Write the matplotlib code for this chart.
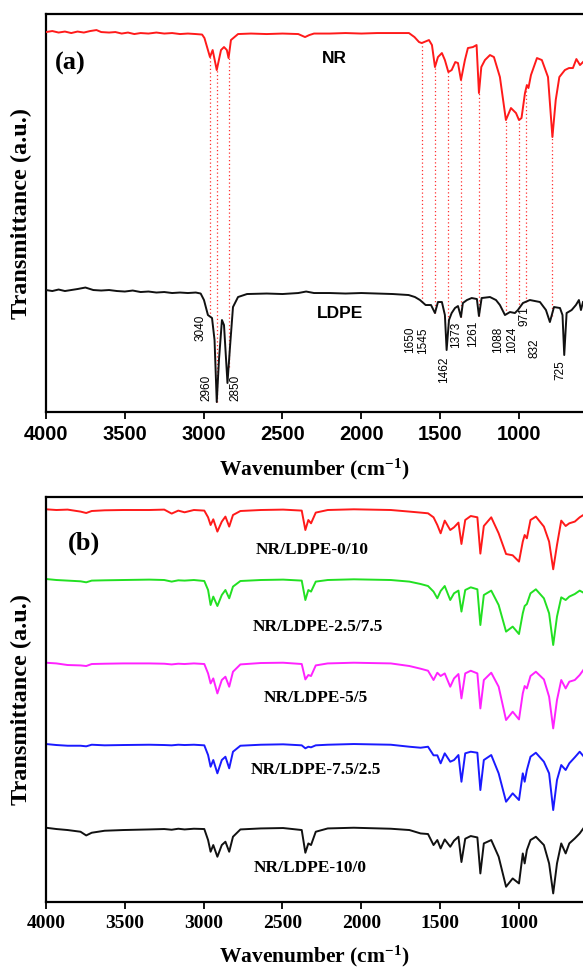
import numpy as np
import matplotlib
matplotlib.use("Agg")
from matplotlib import pyplot as plt

plt.rcParams['mathtext.fontset'] = 'custom'
plt.rcParams['mathtext.rm'] = 'Liberation Serif:bold'
plt.rcParams['mathtext.it'] = 'Liberation Serif:bold'
plt.rcParams['mathtext.bf'] = 'Liberation Serif:bold'

# ---------------- panel (a): neat NR and LDPE spectra ----------------
nr_wn = [4000, 3960, 3920, 3880, 3840, 3800, 3760, 3720, 3680, 3650, 3600, 3560, 3520, 3480,
         3440, 3400, 3350, 3300, 3250, 3200, 3150, 3100, 3050, 3010, 2995, 2960, 2943, 2917,
         2890, 2871, 2853, 2842, 2827, 2782, 2700, 2600, 2500, 2400, 2357, 2330, 2300, 2200,
         2100, 2000, 1900, 1800, 1698, 1663, 1634, 1617, 1571, 1552, 1533, 1514, 1489, 1470,
         1448, 1427, 1404, 1387, 1368, 1343, 1324, 1292, 1269, 1254, 1239, 1216, 1184, 1159,
         1121, 1083, 1051, 1019, 1000, 984, 962, 950, 940, 924, 886, 855, 816, 788, 767, 744,
         709, 683, 658, 636, 613, 594]
nr_t = [100, 101, 99.5, 100.5, 99, 100.5, 99.5, 101, 102, 100, 99.5, 100, 98.5, 99.5,
        98, 99, 98.5, 99.5, 98.5, 99, 98, 98.5, 98, 97.5, 94, 75, 82, 62,
        82, 85, 82, 74, 92, 98, 98.5, 98, 98.5, 98, 95, 97, 98.5, 98.5,
        99, 98.5, 99, 99, 99, 95, 90, 89, 92, 87, 65, 75, 79, 72,
        60, 62, 70, 69, 52, 72, 84, 85, 87, 39, 65, 72, 77, 75,
        55, 12, 24, 19, 12, 14, 39, 47, 44, 57, 74, 72, 55, -5, 32, 55,
        62, 64, 64, 73, 67, 70]

ldpe_wn = [4000, 3960, 3920, 3880, 3840, 3800, 3750, 3700, 3650, 3600, 3550, 3500, 3450, 3400,
           3350, 3300, 3250, 3200, 3150, 3100, 3050, 3019, 2998, 2973, 2947, 2931, 2917, 2903,
           2884, 2871, 2849, 2833, 2814, 2782, 2725, 2600, 2500, 2400, 2350, 2300, 2200, 2100,
           2000, 1900, 1800, 1700, 1660, 1628, 1592, 1558, 1533, 1514, 1489, 1470, 1459, 1444,
           1427, 1406, 1387, 1368, 1356, 1330, 1300, 1267, 1254, 1237, 1184, 1146, 1121, 1089,
           1057, 1026, 1007, 975, 931, 867, 829, 804, 778, 740, 724, 713, 698, 666, 639, 620,
           607, 594]
ldpe_t = [100, 99, 100.5, 99, 100, 101, 102.5, 100, 99.5, 100, 99, 98.5, 99.5, 98,
          98.5, 97.5, 98, 97, 97.5, 97, 97.5, 96.5, 90, 75, 72, 50, -12, 30,
          70, 65, 7, 43, 83, 93, 96, 96.5, 96, 97, 98.5, 97, 97, 96.5,
          97, 96.5, 96, 95, 93, 90, 85, 85, 77, 88, 88, 75, 40, 70,
          77, 82, 84, 73, 87, 90, 92, 91, 74, 92, 93, 90, 85, 75,
          78, 77, 80, 87, 90, 88, 80, 68, 83, 82, 75, 35, 77, 80, 85, 90,
          80, 88]

# dotted guide lines and band labels
guide_wn = [2960, 2917, 2842, 1617, 1533, 1448, 1368, 1254, 1083, 1000, 958, 793]
band_text = ['3040', '2960', '2850', '1650', '1545', '1462', '1373', '1261',
             '1088', '1024', '971', '832', '725']
band_x = [3017, 2985, 2800, 1692, 1609, 1476, 1397, 1292, 1130, 1041, 962, 899, 737]
band_y = [84, 24, 24, 72, 71, 42, 77, 78, 72, 72, 96, 64, 42]

# ---------------- panel (b): blends ----------------
wn_b = [4000, 3934, 3863, 3781, 3745, 3710, 3628, 3510, 3345, 3250,
        3203, 3161, 3121, 3062, 2996, 2972, 2956, 2939, 2913, 2885,
        2862, 2838, 2814, 2767, 2638, 2496, 2378, 2355, 2336, 2319,
        2289, 2213, 2048, 1813, 1695, 1624, 1577, 1542, 1518, 1497,
        1471, 1436, 1412, 1384, 1365, 1341, 1306, 1264, 1245, 1223,
        1176, 1129, 1082, 1040, 1000, 976, 964, 950, 927, 893,
        842, 809, 783, 759, 732, 704, 681, 646, 615, 592]

t_0_10 = [100, 99.3, 99.7, 97.7, 96.3, 98.3, 99, 99.3, 99.3, 99.7,
          95.7, 98.7, 97, 99.3, 98.7, 92, 84.3, 90, 77.7, 87.7,
          92.7, 82.7, 94.3, 98.3, 99.3, 99.7, 98.7, 79.3, 89.3, 86,
          96.7, 99.3, 100, 99.3, 97.7, 96.7, 96, 92, 84.3, 76,
          88.7, 79.3, 82, 86.7, 65.3, 89.3, 93.3, 92, 55.7, 83.3,
          92, 76, 55.3, 54, 47.7, 67.7, 74.3, 71, 89.3, 92.7,
          82.7, 67.7, 40, 64.3, 88.7, 83.3, 86, 87.7, 92, 94.3]
t_25_75 = [100.3, 99.3, 98.7, 98, 97, 98.7, 99, 99.3, 99.7, 99.3,
           97.7, 99, 98.7, 99.3, 98.3, 89.3, 74.3, 82.7, 73.3, 84.3,
           89.3, 81, 92.7, 98.3, 99.3, 99.7, 98.7, 79.3, 89.3, 87.7,
           97.7, 99.3, 100, 99.3, 97.7, 95.3, 93.3, 87.7, 81, 88.3,
           93.3, 79.3, 86, 88.7, 67.7, 89.3, 92, 90, 54.3, 84.3,
           88.7, 74.3, 47.7, 52.7, 45.3, 66, 73.3, 75.3, 86, 90,
           81, 66, 34.3, 62.7, 82, 79.3, 82.7, 85.3, 88.7, 86.7]
t_5_5 = [100, 99.3, 97.7, 97.3, 96.7, 98.7, 99, 99.3, 99.3, 99,
         98.3, 99, 98.7, 99.3, 98.7, 89.3, 79.3, 84.3, 69.3, 82.7,
         86, 76, 91, 98.3, 99.7, 100, 98.7, 83.3, 87.7, 86.7,
         97.3, 99.3, 100, 99.3, 96.7, 94, 92, 82.7, 90, 86.7,
         89.3, 76, 84.3, 88.7, 64.3, 89.3, 92, 89.3, 54.3, 82.7,
         90, 76, 42.7, 51, 43.3, 69.3, 76.7, 74.3, 86.7, 91,
         83.3, 66, 34.3, 62.7, 82.7, 74.3, 81, 82.7, 87.7, 92.7]
t_75_25 = [100, 99, 98.3, 98.3, 97.7, 99.3, 98.7, 99, 99.3, 99,
           98.7, 99.3, 99, 99.3, 98.7, 89, 77.3, 84, 70.7, 84,
           87.3, 75.7, 92.3, 98.3, 99.3, 99.7, 98.7, 95.7, 97.3, 96.7,
           98.7, 99.3, 100, 99.3, 97.3, 96.3, 97.3, 88.7, 88.7, 80.7,
           90.7, 82.3, 84, 89, 62.3, 90.7, 92.3, 91.3, 54, 84,
           89, 70.7, 42.3, 50.7, 44, 70.7, 62.3, 74, 87.3, 91.3,
           82.3, 70.7, 34, 64, 79, 74, 80.7, 86.7, 92.3, 88]
t_10_0 = [100, 98.7, 97.7, 96, 92.3, 95, 97, 97.7, 98.3, 98.7,
          98, 99, 98.3, 99, 98.7, 87.7, 76, 82.7, 71, 82.7,
          86, 76, 91, 98.3, 99.3, 99.7, 97.7, 75, 84.3, 82.7,
          96, 99.3, 100, 99, 97.7, 94.3, 93.7, 82.7, 87.7, 79.3,
          88.3, 81, 87, 91, 65.7, 89, 91.7, 90.3, 54.3, 84.3,
          87.7, 71, 41, 49.3, 44.3, 74.3, 64.3, 77.7, 87.7, 91,
          82.7, 64.3, 34.3, 64.3, 84.3, 74.3, 84.3, 89.3, 94.3, 99.3]

blend_names = ['NR/LDPE-0/10', 'NR/LDPE-2.5/7.5', 'NR/LDPE-5/5',
               'NR/LDPE-7.5/2.5', 'NR/LDPE-10/0']
blend_series = [t_0_10, t_25_75, t_5_5, t_75_25, t_10_0]
blend_colors = ['#ff1a1a', '#22e022', '#ff22ff', '#1a1aff', '#111111']
blend_offsets = [292.7, 222.7, 139.3, 58, -25.7]
name_x = [2313, 2275, 2288, 2288, 2326]
name_y = [352, 275, 204, 132, 34]

serif = 'Liberation Serif'
sans = 'Liberation Sans'

fig = plt.figure(figsize=(5.83, 9.69), dpi=100)
ax1 = fig.add_axes([0.0789, 0.5748, 0.9211, 0.4107])
ax2 = fig.add_axes([0.0789, 0.0691, 0.9211, 0.4180])

# panel (a)
nr_off, ldpe_off = 280, 22
ax1.plot(nr_wn, np.array(nr_t) + nr_off, color='#ff1a1a', lw=1.4, zorder=3)
ax1.plot(ldpe_wn, np.array(ldpe_t) + ldpe_off, color='#111111', lw=1.4, zorder=3)
top = np.interp(guide_wn, nr_wn[::-1], nr_t[::-1]) + nr_off
bot = np.interp(guide_wn, ldpe_wn[::-1], ldpe_t[::-1]) + ldpe_off
ax1.vlines(guide_wn, bot, top, colors='#ff3030', linestyles=(0, (1, 2)), lw=0.9, zorder=2)
for txt, x, y in zip(band_text, band_x, band_y):
    ax1.text(x, y, txt, rotation=90, ha='center', va='center',
             fontsize=8.5, family=sans)
ax1.text(2173, 354, 'NR', ha='center', va='center', fontsize=12.5,
         fontweight='bold', family=sans)
ax1.text(2135, 99, 'LDPE', ha='center', va='center', fontsize=12.5,
         fontweight='bold', family=sans)
ax1.text(3848, 349, '(a)', ha='center', va='center', fontsize=19,
         fontweight='bold', family=serif)
ax1.set_ylim(0, 398)

# panel (b)
for t, c, off in zip(blend_series, blend_colors, blend_offsets):
    ax2.plot(wn_b, np.array(t) + off, color=c, lw=1.4)
for name, x, y in zip(blend_names, name_x, name_y):
    ax2.text(x, y, name, ha='center', va='center', fontsize=12.5,
             fontweight='bold', family=serif)
ax2.text(3762, 359, '(b)', ha='center', va='center', fontsize=19,
         fontweight='bold', family=serif)
ax2.set_ylim(0, 405)

for ax, fam, ypos in [(ax1, sans, -0.112), (ax2, serif, -0.104)]:
    ax.set_xlim(4000, 594)
    ax.set_xticks([4000, 3500, 3000, 2500, 2000, 1500, 1000])
    ax.set_yticks([])
    ax.spines['right'].set_visible(False)
    for s in ['left', 'top', 'bottom']:
        ax.spines[s].set_linewidth(1.6)
    ax.tick_params(axis='x', direction='out', length=5, width=1.3, pad=4.5)
    for lab in ax.get_xticklabels():
        lab.set_family(fam)
        lab.set_fontweight('bold')
        lab.set_fontsize(14.5 if fam == sans else 14)
    ax.set_xlabel('Wavenumber (cm$^{\\mathrm{-1}}$)', family=serif,
                  fontweight='bold', fontsize=15.5)
    ax.xaxis.set_label_coords(0.5, ypos)
    ax.set_ylabel('Transmittance (a.u.)', family=serif, fontweight='bold',
                  fontsize=17.5)
    ax.yaxis.set_label_coords(-0.026, 0.5)

fig.savefig('out.png', dpi=100)
